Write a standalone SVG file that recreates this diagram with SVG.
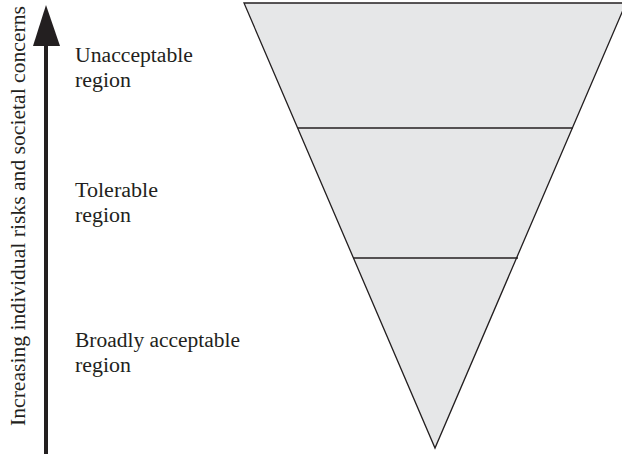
<svg xmlns="http://www.w3.org/2000/svg" width="622" height="456" viewBox="0 0 622 456">
<style>
.lbl{font-family:"Liberation Serif","Times New Roman",serif;font-size:20.5px;fill:#231f20}
.reg{fill:#e6e7e8;stroke:#231f20;stroke-width:1.3}
.div{stroke:#231f20;stroke-width:1.3;fill:none}
</style>
<rect width="622" height="456" fill="#fff"/>
<g id="pyramid">
<polygon class="reg" points="244,3 626,3 435,448"/>
<line class="div" x1="298" y1="128" x2="573" y2="128"/>
<line class="div" x1="353" y1="258" x2="518" y2="258"/>
</g>
<g id="connectors">
<line x1="46" y1="40" x2="46" y2="454" stroke="#231f20" stroke-width="4"/>
<polygon points="46,5 33,46 60,46" fill="#231f20"/>
</g>
<g id="axis-label">
<text class="lbl" transform="translate(25,216) rotate(-90)" text-anchor="middle" textLength="420" lengthAdjust="spacingAndGlyphs">Increasing individual risks and societal concerns</text>
</g>
<g id="unacceptable">
<text class="lbl" x="75" y="61.5" textLength="118" lengthAdjust="spacingAndGlyphs">Unacceptable</text>
<text class="lbl" x="75" y="87" textLength="56" lengthAdjust="spacingAndGlyphs">region</text>
</g>
<g id="tolerable">
<text class="lbl" x="75" y="196.5" textLength="83" lengthAdjust="spacingAndGlyphs">Tolerable</text>
<text class="lbl" x="75" y="222" textLength="56" lengthAdjust="spacingAndGlyphs">region</text>
</g>
<g id="broadly">
<text class="lbl" x="75" y="346.5" textLength="165" lengthAdjust="spacingAndGlyphs">Broadly acceptable</text>
<text class="lbl" x="75" y="372" textLength="56" lengthAdjust="spacingAndGlyphs">region</text>
</g>
</svg>
